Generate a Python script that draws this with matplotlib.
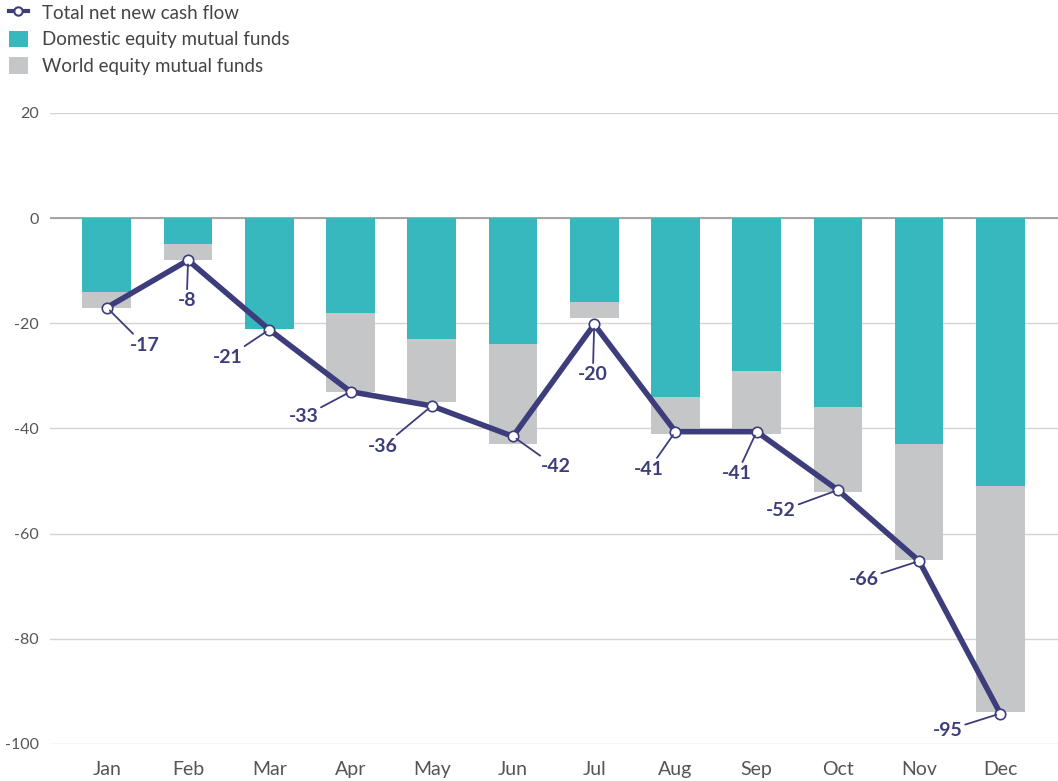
import matplotlib
matplotlib.use("Agg")
import matplotlib.pyplot as plt
from matplotlib.lines import Line2D
from matplotlib.patches import Patch

months = ["Jan", "Feb", "Mar", "Apr", "May", "Jun", "Jul", "Aug", "Sep", "Oct", "Nov", "Dec"]
domestic = [-14, -5, -21, -18, -23, -24, -16, -34, -29, -36, -43, -51]
world = [-3, -3, 0, -15, -12, -19, -3, -7, -12, -16, -22, -43]
total = [-17, -8, -21.2, -33, -35.7, -41.5, -20.2, -40.6, -40.6, -51.7, -65.2, -94.2]
total_labels = ["-17", "-8", "-21", "-33", "-36", "-42", "-20", "-41", "-41", "-52", "-66", "-95"]
yticks = [-100, -80, -60, -40, -20, 0, 20]

# label offsets in points (style)
offsets = [(27, -27), (-1, -29), (-30, -20), (-34, -18), (-35, -29), (31, -22),
           (-1, -36), (-19, -27), (-14, -30), (-41, -15), (-40, -13), (-38, -12)]

TEAL = "#36B8BE"
GREY = "#C5C6C8"
NAVY = "#3D3D7C"
TXT = "#555555"

plt.rcParams['font.family'] = ['Lato', 'DejaVu Sans']

fig = plt.figure(figsize=(10.58, 7.81), dpi=100)
ax = fig.add_axes([50/1058, 37/781, 1 - 50/1058, (744-113)/781])

x = list(range(len(months)))
ax.bar(x, domestic, width=0.6, color=TEAL, zorder=2)
ax.bar(x, world, width=0.6, bottom=domestic, color=GREY, zorder=2)
ax.plot(x, total, color=NAVY, lw=4, zorder=4, solid_joinstyle='round')
ax.plot(x, total, 'o', ms=7.5, mfc='white', mec=NAVY, mew=1.2, zorder=5)

for xi, yi, lab, off in zip(x, total, total_labels, offsets):
    ax.annotate(lab, xy=(xi, yi), xytext=off, textcoords='offset points',
                ha='center', va='center', fontsize=14, fontweight='bold', color=NAVY,
                arrowprops=dict(arrowstyle='-', color=NAVY, lw=1.3, shrinkA=0, shrinkB=3),
                zorder=6)

ax.set_xlim(-0.7, 11.71)
ax.set_ylim(-100, 20)
ax.set_yticks(yticks)
ax.set_yticklabels([str(v) for v in yticks])
ax.set_xticks(x)
ax.set_xticklabels(months)
for s in ax.spines.values():
    s.set_visible(False)
ax.tick_params(axis='both', length=0, colors=TXT)
ax.tick_params(axis='y', labelsize=11.5, pad=8)
ax.tick_params(axis='x', labelsize=14, pad=12)
ax.grid(axis='y', color='#D4D4D4', lw=1.0, zorder=0)
ax.set_axisbelow(True)
ax.axhline(0, color='#999999', lw=1.2, zorder=1)

handles = [
    Line2D([0], [0], color=NAVY, lw=3, marker='o', ms=6, mfc='white', mec=NAVY, mew=1.5),
    Patch(facecolor=TEAL),
    Patch(facecolor=GREY),
]
labels = ["Total net new cash flow", "Domestic equity mutual funds", "World equity mutual funds"]
leg = fig.legend(handles, labels, loc='upper left', bbox_to_anchor=(-0.004, 1.012),
                 frameon=False, fontsize=13.5, handlelength=1.0, handleheight=1.0,
                 handletextpad=0.75, labelspacing=0.48, borderaxespad=0.3)
for t in leg.get_texts():
    t.set_color('#444444')

fig.savefig("out.png", dpi=100)
